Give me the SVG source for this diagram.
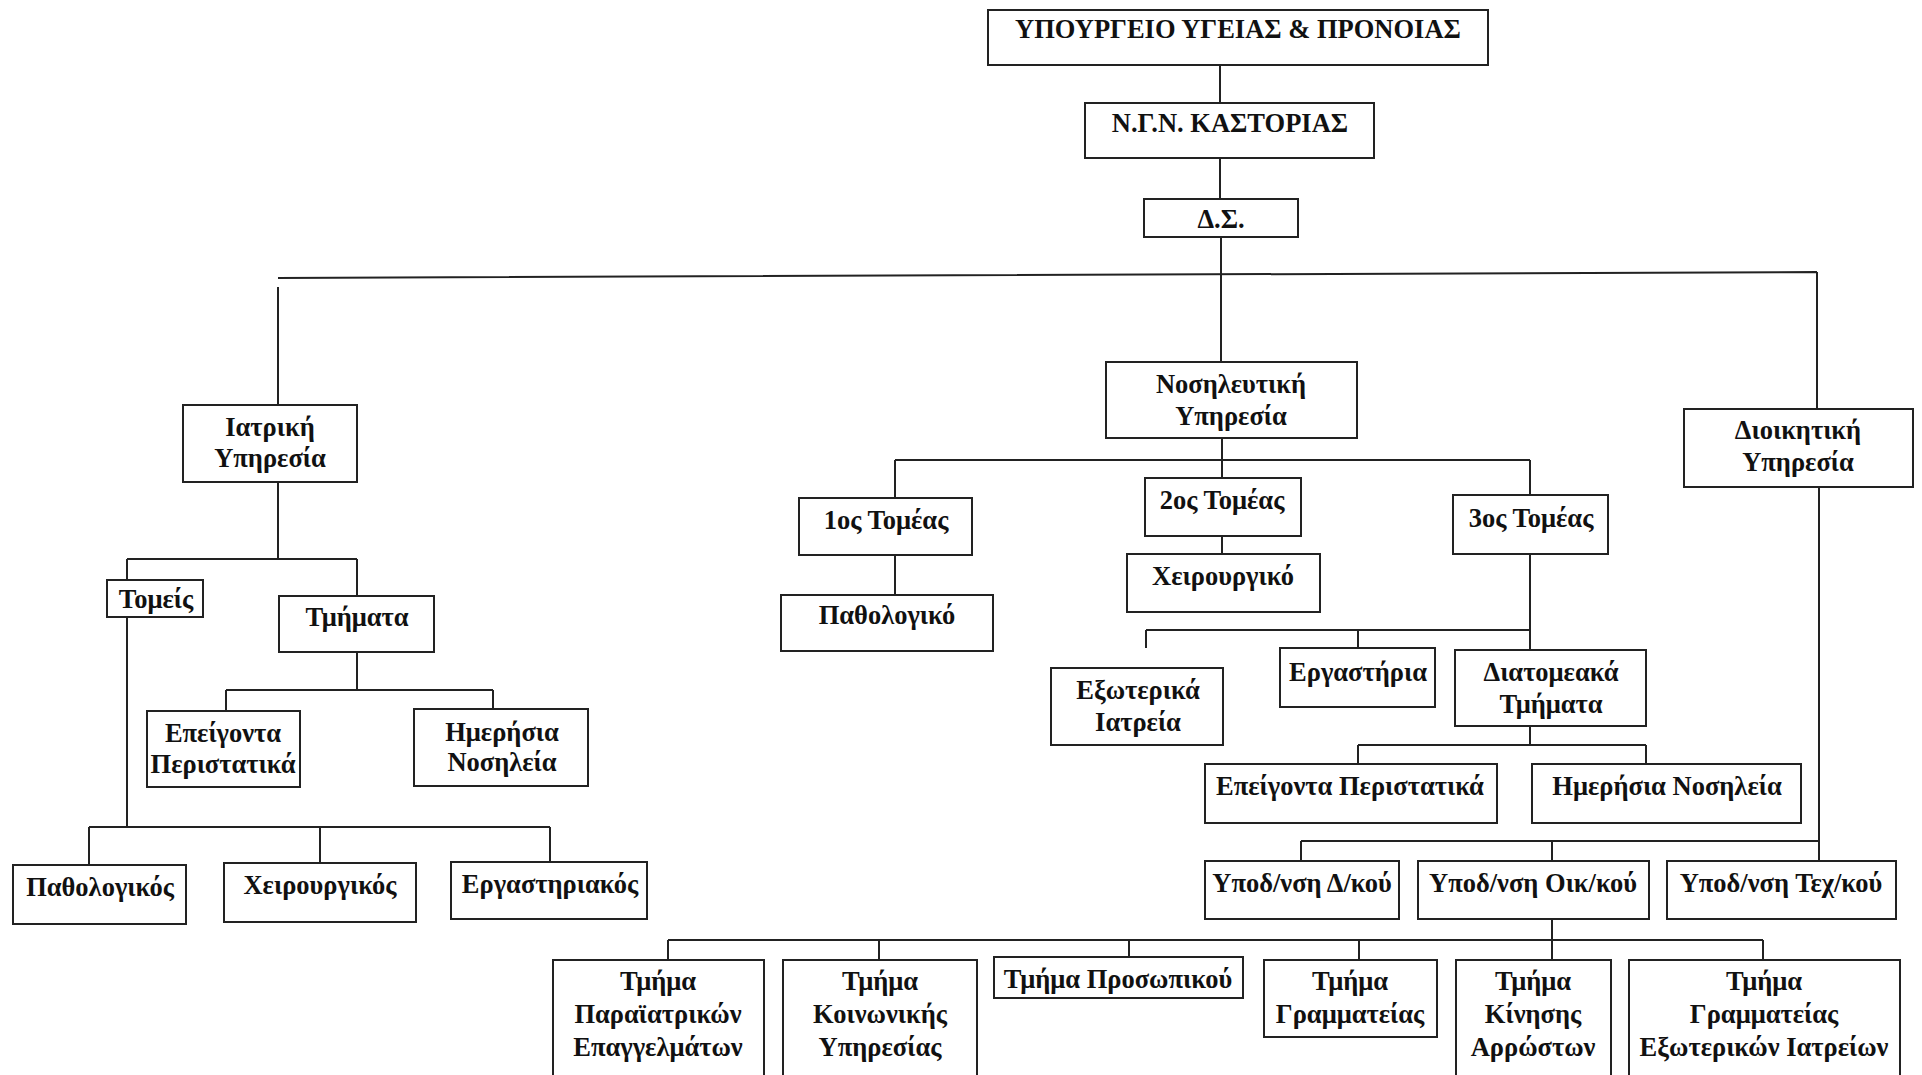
<svg xmlns="http://www.w3.org/2000/svg" width="1922" height="1075" viewBox="0 0 1922 1075">
<style>
.box{fill:#fff;stroke:#222;stroke-width:2}
.t{font-family:"Liberation Serif","Times New Roman",serif;font-weight:bold;font-size:26.5px;text-anchor:middle;fill:#111}
.c{stroke:#222;stroke-width:2;fill:none}
</style>
<rect width="1922" height="1075" fill="#fff"/>
<g id="connectors">
<path class="c" d="M1220 65V103M1220 158V199M1221 237V362"/>
<path class="c" d="M278 278L1817 272M278 287V405M1817 272V409"/>
<path class="c" d="M278 482V559M127 559H357M127 559V580M127 617V827M357 559V596M357 652V690"/>
<path class="c" d="M226 690H493M226 690V711M493 690V709"/>
<path class="c" d="M89 827H550M89 827V865M320 827V863M550 827V862"/>
<path class="c" d="M1222 438V478M895 460H1530M895 460V498M1530 460V495"/>
<path class="c" d="M895 555V595M1222 536V554M1530 554V650"/>
<path class="c" d="M1146 630H1530M1146 630V648M1358 630V648"/>
<path class="c" d="M1530 726V745M1358 745H1646M1358 745V764M1646 745V764"/>
<path class="c" d="M1819 487V861M1301 841H1819M1301 841V861M1552 841V861"/>
<path class="c" d="M1552 919V960M668 940H1763M668 940V960M879 940V960M1129 940V957M1359 940V960M1763 940V960"/>
</g>
<g id="n-ministry"><rect class="box" x="988" y="10" width="500" height="55"/><text class="t" x="1238" y="38">ΥΠΟΥΡΓΕΙΟ ΥΓΕΙΑΣ &amp; ΠΡΟΝΟΙΑΣ</text></g>
<g id="n-ngn"><rect class="box" x="1085" y="103" width="289" height="55"/><text class="t" x="1230" y="132">Ν.Γ.Ν. ΚΑΣΤΟΡΙΑΣ</text></g>
<g id="n-ds"><rect class="box" x="1144" y="199" width="154" height="38"/><text class="t" x="1221" y="228">Δ.Σ.</text></g>
<g id="n-iatriki"><rect class="box" x="183" y="405" width="174" height="77"/><text class="t" x="270" y="436">Ιατρική</text><text class="t" x="270" y="467">Υπηρεσία</text></g>
<g id="n-tomeis"><rect class="box" x="107" y="580" width="96" height="37"/><text class="t" x="156" y="608">Τομείς</text></g>
<g id="n-tmimata"><rect class="box" x="279" y="596" width="155" height="56"/><text class="t" x="357" y="626">Τμήματα</text></g>
<g id="n-epeig1"><rect class="box" x="147" y="711" width="153" height="76"/><text class="t" x="223" y="742">Επείγοντα</text><text class="t" x="223" y="773">Περιστατικά</text></g>
<g id="n-imer1"><rect class="box" x="414" y="709" width="174" height="77"/><text class="t" x="502" y="741">Ημερήσια</text><text class="t" x="502" y="771">Νοσηλεία</text></g>
<g id="n-pathologikos"><rect class="box" x="13" y="865" width="173" height="59"/><text class="t" x="100" y="896">Παθολογικός</text></g>
<g id="n-xeirourgikos"><rect class="box" x="224" y="863" width="192" height="59"/><text class="t" x="320" y="894">Χειρουργικός</text></g>
<g id="n-ergastiriakos"><rect class="box" x="451" y="862" width="196" height="57"/><text class="t" x="550" y="893">Εργαστηριακός</text></g>
<g id="n-nosileftiki"><rect class="box" x="1106" y="362" width="251" height="76"/><text class="t" x="1231" y="393">Νοσηλευτική</text><text class="t" x="1231" y="425">Υπηρεσία</text></g>
<g id="n-tomeas1"><rect class="box" x="799" y="498" width="173" height="57"/><text class="t" x="886" y="529">1ος Τομέας</text></g>
<g id="n-pathologiko"><rect class="box" x="781" y="595" width="212" height="56"/><text class="t" x="887" y="624">Παθολογικό</text></g>
<g id="n-tomeas2"><rect class="box" x="1145" y="478" width="156" height="58"/><text class="t" x="1222" y="509">2ος Τομέας</text></g>
<g id="n-xeirourgiko"><rect class="box" x="1127" y="554" width="193" height="58"/><text class="t" x="1223" y="585">Χειρουργικό</text></g>
<g id="n-tomeas3"><rect class="box" x="1453" y="495" width="155" height="59"/><text class="t" x="1531" y="527">3ος Τομέας</text></g>
<g id="n-exoterika"><rect class="box" x="1051" y="668" width="172" height="77"/><text class="t" x="1138" y="699">Εξωτερικά</text><text class="t" x="1138" y="731">Ιατρεία</text></g>
<g id="n-ergastiria"><rect class="box" x="1280" y="648" width="155" height="59"/><text class="t" x="1358" y="681">Εργαστήρια</text></g>
<g id="n-diatomeaka"><rect class="box" x="1455" y="650" width="191" height="76"/><text class="t" x="1551" y="681">Διατομεακά</text><text class="t" x="1551" y="713">Τμήματα</text></g>
<g id="n-epeig2"><rect class="box" x="1205" y="764" width="292" height="59"/><text class="t" x="1350" y="795">Επείγοντα Περιστατικά</text></g>
<g id="n-imer2"><rect class="box" x="1532" y="764" width="269" height="59"/><text class="t" x="1667" y="795">Ημερήσια Νοσηλεία</text></g>
<g id="n-dioikitiki"><rect class="box" x="1684" y="409" width="229" height="78"/><text class="t" x="1798" y="439">Διοικητική</text><text class="t" x="1798" y="471">Υπηρεσία</text></g>
<g id="n-ypod-d"><rect class="box" x="1205" y="861" width="194" height="58"/><text class="t" x="1302" y="892">Υποδ/νση Δ/κού</text></g>
<g id="n-ypod-oik"><rect class="box" x="1418" y="861" width="231" height="58"/><text class="t" x="1533" y="892">Υποδ/νση Οικ/κού</text></g>
<g id="n-ypod-tex"><rect class="box" x="1667" y="861" width="229" height="58"/><text class="t" x="1781" y="892">Υποδ/νση Τεχ/κού</text></g>
<g id="n-paraiatrikon"><rect class="box" x="553" y="960" width="211" height="125"/><text class="t" x="658" y="990">Τμήμα</text><text class="t" x="658" y="1023">Παραϊατρικών</text><text class="t" x="658" y="1056">Επαγγελμάτων</text></g>
<g id="n-koinonikis"><rect class="box" x="783" y="960" width="194" height="125"/><text class="t" x="880" y="990">Τμήμα</text><text class="t" x="880" y="1023">Κοινωνικής</text><text class="t" x="880" y="1056">Υπηρεσίας</text></g>
<g id="n-prosopikou"><rect class="box" x="994" y="957" width="249" height="41"/><text class="t" x="1118" y="988">Τμήμα Προσωπικού</text></g>
<g id="n-grammateias"><rect class="box" x="1264" y="960" width="173" height="77"/><text class="t" x="1350" y="990">Τμήμα</text><text class="t" x="1350" y="1023">Γραμματείας</text></g>
<g id="n-kinisis"><rect class="box" x="1456" y="960" width="155" height="125"/><text class="t" x="1533" y="990">Τμήμα</text><text class="t" x="1533" y="1023">Κίνησης</text><text class="t" x="1533" y="1056">Αρρώστων</text></g>
<g id="n-gram-exot"><rect class="box" x="1629" y="960" width="271" height="125"/><text class="t" x="1764" y="990">Τμήμα</text><text class="t" x="1764" y="1023">Γραμματείας</text><text class="t" x="1764" y="1056">Εξωτερικών Ιατρείων</text></g>
</svg>
